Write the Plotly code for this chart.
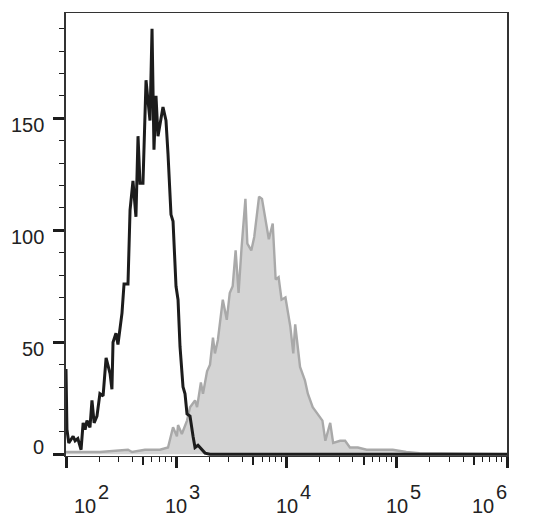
import math
import plotly.graph_objects as go

# Isotype control (black line)
iso_x = [100, 102, 106, 116, 121, 128, 137, 143, 149, 155, 165, 172, 180, 191, 203, 217, 231, 251, 261, 267,
         284, 296, 322, 336, 365, 381, 405, 431, 450, 469, 499, 532, 554, 578, 603, 628, 655, 683, 758, 807,
         842, 896, 935, 995, 1038, 1082, 1152, 1201, 1252, 1333, 1420, 1480, 1575, 1713, 1825, 2024, 1000000]
iso_y = [38, 11, 5, 8, 6, 7, 2, 14, 11, 15, 12, 24, 14, 17, 27, 26, 43, 36, 29, 50,
         54, 49, 63, 76, 76, 109, 122, 106, 142, 121, 121, 167, 158, 149, 190, 136, 160, 142, 155, 149,
         134, 107, 104, 75, 69, 48, 30, 27, 18, 17, 8, 3, 4, 2, 0.5, 0, 0]

# Stained sample (grey filled)
stain_x = [100, 203, 365, 397, 520, 711, 842, 935, 1014, 1038, 1124, 1252, 1333, 1480, 1545, 1673, 1748, 1903,
           2024, 2153, 2243, 2385, 2643, 2873, 3056, 3249, 3456, 3675, 3909, 4240, 4415, 4793, 5097, 5637,
           5995, 6500, 6913, 7497, 7974, 8480, 9018, 9785, 10833, 11522, 11992, 13271, 14688, 15620, 17285,
           19130, 21172, 22517, 24914, 26500, 30637, 34000, 37600, 44400, 53300, 65700, 92000, 122000,
           161000, 1000000]
stain_y = [1, 1, 2, 1, 2, 2, 3, 12, 8, 13, 9, 15, 21, 24, 21, 32, 27, 37,
           40, 52, 45, 51, 69, 60, 72, 75, 91, 72, 92, 114, 94, 91, 97, 115,
           114, 103, 96, 103, 78, 79, 69, 70, 57, 45, 58, 39, 33, 27, 21,
           18, 15, 6, 14, 5, 6, 6, 3, 3, 2, 2, 2, 1,
           0.5, 0]

x_major = [100, 1000, 10000, 100000, 1000000]
x_exponents = ["2", "3", "4", "5", "6"]
y_major = [0, 50, 100, 150]
y_labels = ["0", "50", "100", "150"]

FONT = "Arial, Liberation Sans, Helvetica, sans-serif"
TXT = "#222222"

fig = go.Figure()
fig.add_trace(go.Scatter(x=stain_x, y=stain_y, mode="lines", fill="tozeroy",
                         fillcolor="#d4d4d4", line=dict(color="#a9a9a9", width=2.4),
                         hoverinfo="skip", showlegend=False))
fig.add_trace(go.Scatter(x=iso_x, y=iso_y, mode="lines",
                         line=dict(color="#1c1c1c", width=3),
                         hoverinfo="skip", showlegend=False))

minor_x = [m * 10 ** e for e in range(2, 6) for m in (2, 3, 4, 6, 7, 8, 9)]
mid_x = [5 * 10 ** e for e in range(2, 6)]

fig.update_layout(
    width=533, height=529,
    margin=dict(l=66, r=26, t=13, b=73),
    paper_bgcolor="white", plot_bgcolor="white",
    showlegend=False,
    xaxis=dict(type="log", range=[2, 6], showgrid=False, zeroline=False,
               showline=True, linecolor="#333333", linewidth=1, mirror=True,
               tickmode="array", tickvals=x_major, showticklabels=False,
               ticks="outside", ticklen=11, tickwidth=3, tickcolor="#1c1c1c",
               minor=dict(tickmode="array", tickvals=minor_x, ticks="outside",
                          ticklen=5, tickwidth=1, tickcolor="#1c1c1c", showgrid=False)),
    xaxis2=dict(type="log", range=[2, 6], overlaying="x", anchor="y", side="bottom",
                showgrid=False, zeroline=False, showline=False,
                tickmode="array", tickvals=mid_x, showticklabels=False,
                ticks="outside", ticklen=8, tickwidth=2, tickcolor="#1c1c1c"),
    yaxis=dict(range=[-0.8, 197], showgrid=False, zeroline=False,
               showline=True, linecolor="#333333", linewidth=1.5, mirror=True,
               tickmode="array", tickvals=y_major, showticklabels=False,
               ticks="outside", ticklen=11, tickwidth=3, tickcolor="#1c1c1c",
               minor=dict(tickmode="array", tickvals=list(range(10, 200, 10)),
                          ticks="outside", ticklen=5, tickwidth=1, tickcolor="#1c1c1c",
                          showgrid=False)),
)

# invisible trace so xaxis2 is drawn
fig.add_trace(go.Scatter(x=[1000], y=[None], xaxis="x2", mode="lines",
                         hoverinfo="skip", showlegend=False))

annotations = []
n = len(x_major)
for i, (xv, ex) in enumerate(zip(x_major, x_exponents)):
    lx = math.log10(xv)
    shift = 0
    if i == 0:
        shift = 19
    elif i == n - 1:
        shift = -24
    annotations.append(dict(x=lx, xref="x", y=0, yref="paper", text="10",
                            showarrow=False, xanchor="right", yanchor="middle",
                            xshift=12 + shift + 1, yshift=-50,
                            font=dict(family=FONT, size=20, color=TXT)))
    annotations.append(dict(x=lx, xref="x", y=0, yref="paper", text=ex,
                            showarrow=False, xanchor="left", yanchor="middle",
                            xshift=12 + shift - 1, yshift=-36,
                            font=dict(family=FONT, size=20, color=TXT)))
for yv, lab in zip(y_major, y_labels):
    annotations.append(dict(x=0, xref="paper", y=yv, yref="y", text=lab,
                            showarrow=False, xanchor="right", yanchor="middle",
                            xshift=-20, yshift=(7 if yv == 0 else -7),
                            font=dict(family=FONT, size=20, color=TXT)))
fig.update_layout(annotations=annotations)

fig.write_html("out.html")
